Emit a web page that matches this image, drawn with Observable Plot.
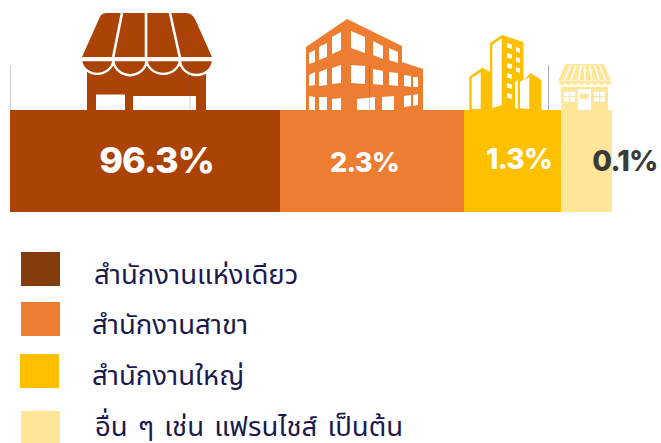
<!DOCTYPE html>
<html lang="th">
<head>
<meta charset="utf-8">
<script src="https://cdn.jsdelivr.net/npm/d3@7"></script>
<script src="https://cdn.jsdelivr.net/npm/@observablehq/plot@0.6"></script>
<style>
html,body{margin:0;padding:0;background:#fff;}
#wrap{position:relative;width:661px;height:443px;overflow:hidden;}
#wrap svg{display:block;position:absolute;left:0;top:0;}
#wrap svg text{letter-spacing:-0.025em;}
.sw{position:absolute;width:39px;height:34px;}
.tx{position:absolute;font-family:"Noto Sans","Noto Sans Thai",sans-serif;color:#1a1a4e;font-size:27.5px;white-space:nowrap;line-height:30px;height:30px;}
</style>
</head>
<body>
<div id="wrap"></div>
<script>
const categories = ["สำนักงานแห่งเดียว","สำนักงานสาขา","สำนักงานใหญ่","อื่น ๆ เช่น แฟรนไชส์ เป็นต้น"];
const valueLabels = ["96.3%","2.3%","1.3%","0.1%"];
const segmentWidths = [270,184,97,51];
const barColors = ["#AB4306","#ED7D31","#FFC000","#FFE699"];
const legendColors = ["#843C0C","#ED7D31","#FFC000","#FFE699"];
const labelColors = ["#fff","#fff","#fff","#3a3a3a"];
const labelSizes = [36,27,28,28.5];
const labelOffsets = [11,-8,6,38];
const labelDrop = [51,49,52,51];
const gridTicks = [10,189.5,369,548];
const legendSwatchTop = [252,302,354,411];
const legendSwatchLeft = [21,21,20,21];
const legendTextTop = [259,309,360,411];
const legendTextLeft = [94,92,92,95];
const legendWordSpacing = [0,0,0,3];

let start = 10;
const rows = categories.map((c,i)=>{
  const r = {c,label:valueLabels[i],x1:start,x2:start+segmentWidths[i],color:barColors[i],
    lc:labelColors[i],size:labelSizes[i],off:labelOffsets[i],drop:labelDrop[i]};
  start += segmentWidths[i];
  return r;
});

const C1="#AB4306",C2="#ED7D31",C3="#FFC000",C4="#FFE699";
const rect=(x,y,w,h,f)=>`<rect x="${x}" y="${y}" width="${w}" height="${h}" fill="${f}"/>`;
const poly=(p,f)=>`<polygon points="${p}" fill="${f}"/>`;

// Pictographs above the bar
const store = `
<path d="M106 13H186Q192 13 195 19L212 57H82L99 19Q101 13 106 13Z" fill="${C1}"/>
${rect(87,66,119,44,C1)}
<path d="M81 60A16.3 15 0 0 0 113.5 60A16.3 15 0 0 0 146.5 60A16.8 15 0 0 0 180 60A16.5 15 0 0 0 213 60Z" fill="${C1}" stroke="#fff" stroke-width="2.4"/>
<path d="M122 13L113 58M146 13V58M170 13L180 58" stroke="#fff" stroke-width="2.6" fill="none"/>
<path d="M81 58.5H213" stroke="#fff" stroke-width="2.4"/>
${rect(96,94.5,29,15.5,"#fff")}${rect(133,96,63,14,"#fff")}`;

const officeWin = [
 "309,53 315,50 315,62 309,64","319,47 327,43 327,57 319,60",
 "309,75 315,72 315,85 309,86","319,72 327,69 327,85 319,86",
 "309,96 315,97 315,110 309,110","319,97 327,97 327,110 319,110",
 "332,37 341,32 341,50 332,54","351,31 365,37 365,53 351,48",
 "373,41 383,46 383,59 373,55","389,48 398,52 398,63 389,60",
 "332,68 341,65 341,83 332,84","351,65 365,66 365,84 351,83",
 "373,69 383,71 383,85 373,84","389,72 398,73 398,86 389,85",
 "404,75 411,76 411,87 404,86","413,77 418,77 418,87 413,87",
 "332,99 341,98 341,110 332,110","357,99 375,97 375,110 357,110",
 "382,97 394,96 394,110 382,110","404,96 411,95 411,106 404,107","413,95 418,94 418,105 413,106"
];
const office = poly("306,47 347,19 402,46 402,62 423,69 423,110 306,110",C2)+officeWin.map(p=>poly(p,"#fff")).join("");

let towerWin="";
[43,53,63,73,83,93].forEach(y=>{towerWin+=poly(`507,${y} 512,${y+1.5} 512,${y+6} 507,${y+4.5}`,"#fff");});
[47,57,67].forEach(y=>{towerWin+=poly(`516,${y} 520,${y+1.5} 520,${y+6} 516,${y+4.5}`,"#fff");});
const tower = poly("469.3,76.7 482.3,67.7 490,72 490,43 502,35 523.5,42 523.5,80 530.7,73 541.5,80 541.5,110 469.3,110",C3)
 +poly("471.7,77.7 480.7,72.3 480.7,109 471.7,109","#fff")
 +poly("492.3,45 501.7,38.3 501.7,105 492.3,108.3","#fff")
 +poly("515,82 517.7,80 517.7,109 515,108.3","#fff")
 +poly("520,81.7 529.3,77.3 529.3,109 520,108.3","#fff")
 +towerWin;

let stripes="", bumps="";
[[571,564.5],[576,571],[581,578.5],[585,585],[589.5,592],[594.5,599],[599.5,605.5]].forEach(([a,b])=>{
  stripes+=`<path d="M${a} 65L${b} 80" stroke="#fff" stroke-width="1.5"/>`;
});
[561.8,568.4,575,581.6,588.2,594.8,601.4,608].forEach(cx=>{
  bumps+=`<path d="M${cx-3.3} 81A3.3 4 0 0 0 ${cx+3.3} 81Z" fill="${C4}"/>`;
});
let pane="";
[564,594].forEach(x=>{pane+=rect(x,91.7,5,4.4,"#fff")+rect(x+6,91.7,5,4.4,"#fff")+rect(x,97.3,5,4.4,"#fff")+rect(x+6,97.3,5,4.4,"#fff");});
const kiosk = poly("565.7,64 604,64 611,80.5 558,80.5",C4)+stripes+bumps
 +rect(561.3,87,46.7,23,C4)
 +pane+rect(577.7,89.3,13.3,20.7,"#fff")+rect(580,94,8.5,5,C4);

const icons = ()=>{
  const g = d3.create("svg:g");
  g.html(store+office+tower+kiosk);
  return g.node();
};

const chart = Plot.plot({
  width:661,height:225,
  margin:0,
  x:{domain:[0,661],range:[0,661],axis:null},
  y:{domain:[-13,212],range:[225,0],axis:null},
  style:{background:"transparent"},
  marks:[
    Plot.ruleX(gridTicks,{x:d=>d,y1:0,y2:147,stroke:"#bdbdbd",strokeWidth:1,strokeOpacity:.75}),
    icons,
    Plot.ruleX(gridTicks.slice(1),{x:d=>d,y1:102,y2:147,stroke:"#555",strokeWidth:1,strokeOpacity:.3}),
    Plot.rect(rows,{x1:"x1",x2:"x2",y1:0,y2:102,fill:"color"}),
    Plot.text(rows,{x:d=>(d.x1+d.x2)/2+d.off,y:"drop",text:"label",fill:"lc",fontSize:"size",
      fontWeight:800,fontFamily:"Inter",textAnchor:"middle",lineAnchor:"middle"})
  ]
});

const wrap=document.getElementById("wrap");
wrap.appendChild(chart);
categories.forEach((c,i)=>{
  const sw=document.createElement("span");
  sw.className="sw";
  sw.style.left=legendSwatchLeft[i]+"px";
  sw.style.top=legendSwatchTop[i]+"px";
  sw.style.background=legendColors[i];
  const tx=document.createElement("span");
  tx.className="tx";
  tx.style.left=legendTextLeft[i]+"px";
  tx.style.top=legendTextTop[i]+"px";
  tx.style.wordSpacing=legendWordSpacing[i]+"px";
  tx.textContent=c;
  wrap.append(sw,tx);
});
</script>
</body>
</html>
